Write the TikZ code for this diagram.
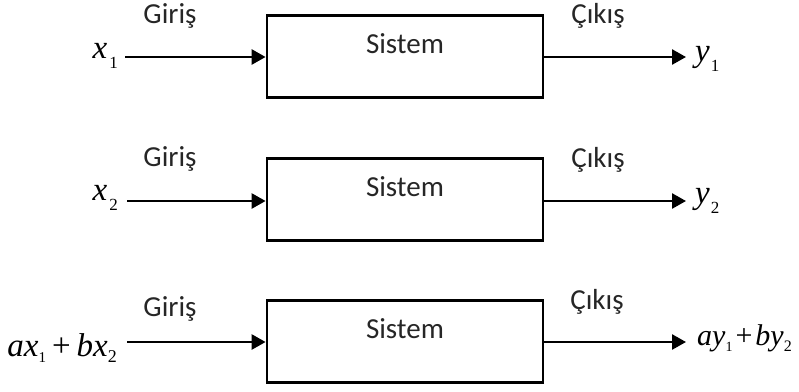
\documentclass[tikz,border=0pt]{standalone}
\usepackage{fontspec}
\setmainfont{Carlito}
\newfontfamily\tms{Liberation Serif}
\usetikzlibrary{arrows.meta}
\newcommand{\sbs}[3][10pt]{\raisebox{-#1}{\upshape\fontsize{#2}{#2}\selectfont #3}}
\tikzset{
  sysbox/.style={draw, line width=2.8pt, minimum width=276pt, minimum height=82pt, inner sep=0pt},
  arr/.style={line width=2.6pt, -{Triangle[length=14pt,width=15pt]}},
  lbl/.style={font=\fontsize{29}{29}\selectfont, text=black!85, inner sep=0pt},
  mth/.style={font=\tms\fontsize{33}{33}\selectfont, inner sep=0pt}
}
\begin{document}
\begin{tikzpicture}[x=1pt,y=-1pt]
\useasboundingbox (0,0) rectangle (799,391);
% row 1
\node[sysbox] (b1) at (405,56.5) {};
\node[lbl, anchor=base] (s1) at (405,53) {Sistem};
\node[lbl, anchor=base] (g1) at (170,23) {Giriş};
\node[lbl, anchor=base] (c1) at (598,23) {Çıkış};
\coordinate (i1) at (125,57);
\coordinate (o1) at (686,57);
\node[mth, anchor=base east] (x1) at (118,58) {\itshape x\hspace{2pt}\sbs{17}{1}};
\node[mth, anchor=base west] (y1) at (695,61) {\itshape y\hspace{1pt}\sbs{17}{1}};
\draw[arr] (i1) -- (i1 -| b1.west);
\draw[arr] (o1 -| b1.east) -- (o1);
% row 2
\node[sysbox] (b2) at (405,199.5) {};
\node[lbl, anchor=base] (s2) at (405,196) {Sistem};
\node[lbl, anchor=base] (g2) at (170,166) {Giriş};
\node[lbl, anchor=base] (c2) at (598,167) {Çıkış};
\coordinate (i2) at (127,201);
\coordinate (o2) at (686,201);
\node[mth, anchor=base east] (x2) at (118,200) {\itshape x\hspace{2pt}\sbs{17}{2}};
\node[mth, anchor=base west] (y2) at (695,203) {\itshape y\hspace{1pt}\sbs{17}{2}};
\draw[arr] (i2) -- (i2 -| b2.west);
\draw[arr] (o2 -| b2.east) -- (o2);
% row 3
\node[sysbox] (b3) at (405,341.5) {};
\node[lbl, anchor=base] (s3) at (405,338) {Sistem};
\node[lbl, anchor=base] (g3) at (170,316) {Giriş};
\node[lbl, anchor=base] (c3) at (597,309) {Çıkış};
\coordinate (i3) at (127,342);
\coordinate (o3) at (686,342);
\node[mth, anchor=base east] (x3) at (117,356) {\itshape ax\sbs[6pt]{15}{1}\hspace{6pt}\upshape+\hspace{6pt}\itshape bx\sbs[6pt]{18}{2}};
\node[mth, anchor=base west, font=\tms\fontsize{30}{30}\selectfont] (y3) at (697,345) {\itshape ay\sbs[6pt]{14}{1}\hspace{3pt}\upshape+\hspace{3pt}\itshape by\sbs[6pt]{16}{2}};
\draw[arr] (i3) -- (i3 -| b3.west);
\draw[arr] (o3 -| b3.east) -- (o3);
\end{tikzpicture}
\end{document}
